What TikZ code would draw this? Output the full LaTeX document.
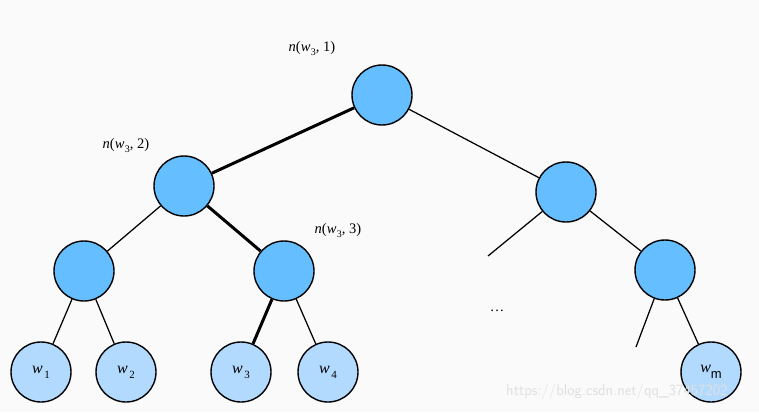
\documentclass[tikz,border=0pt]{standalone}
\usepackage{fontspec}
\setmainfont{Liberation Serif}
\newfontfamily\wmfont{Liberation Sans}
\definecolor{inner}{RGB}{100,190,255}
\definecolor{leafc}{RGB}{178,218,255}
\begin{document}
\begin{tikzpicture}[x=1pt,y=-1pt,
  innernode/.style={circle,draw=black,line width=1.4pt,fill=inner,minimum size=60pt,inner sep=0pt},
  leafnode/.style={circle,draw=black,line width=1.4pt,fill=leafc,minimum size=60pt,inner sep=0pt,font=\fontsize{16}{18}\selectfont},
  lbl/.style={font=\fontsize{14.5}{17}\selectfont,inner sep=0pt},
  thin/.style={line width=1.25pt},
  heavy/.style={line width=3pt}]
\useasboundingbox (0,0) rectangle (759,412);
\fill[white!98!black] (0,0) rectangle (759,412);
\newcommand{\wsub}[1]{\textit{w}\kern0.5pt\raisebox{-0.6ex}{\fontsize{10}{12}\selectfont #1}}
\newcommand{\wleaf}[1]{\textit{w}\kern1.5pt\raisebox{-0.7ex}{\fontsize{11}{12}\selectfont #1}}
% nodes
\node[innernode] (r) at (382,95) {};
\node[innernode] (a) at (184,186) {};
\node[innernode] (b) at (566,192) {};
\node[innernode] (a1) at (84,271) {};
\node[innernode] (a2) at (284,271) {};
\node[innernode] (b2) at (665,270) {};
\node[leafnode] (w1) at (41,372) {\wleaf{1}};
\node[leafnode] (w2) at (126,372) {\wleaf{2}};
\node[leafnode] (w3) at (241,372) {\wleaf{3}};
\node[leafnode] (w4) at (328,372) {\wleaf{4}};
\node[leafnode] (wm) at (711,372) {\textit{w}\raisebox{-0.8ex}{\wmfont\fontsize{13}{14}\selectfont m}};
\coordinate (d1) at (488,256);
\coordinate (d2) at (636,347);
% edges
\draw[heavy] (r) -- (a);
\draw[thin] (r) -- (b);
\draw[thin] (a) -- (a1);
\draw[heavy] (a) -- (a2);
\draw[thin] (a1) -- (w1);
\draw[thin] (a1) -- (w2);
\draw[heavy] (a2) -- (w3);
\draw[thin] (a2) -- (w4);
\draw[thin] (b) -- (b2);
\draw[thin] (b) -- (d1);
\draw[thin] (b2) -- (d2);
\draw[thin] (b2) -- (wm);
% labels
\node[lbl] (l1) at (312,49) {\textit{n}(\wsub{3}, 1)};
\node[lbl] (l2) at (126,146) {\textit{n}(\wsub{3}, 2)};
\node[lbl] (l3) at (338,231) {\textit{n}(\wsub{3}, 3)};
\node[lbl] (dots) at (497,311) {\textellipsis};
\node[font=\fontsize{15.6}{17}\sffamily\selectfont,text=black!12,inner sep=0pt,anchor=west] (wmk) at (506,392) {https://blog.csdn.net/qq\_37457202};
\end{tikzpicture}
\end{document}
